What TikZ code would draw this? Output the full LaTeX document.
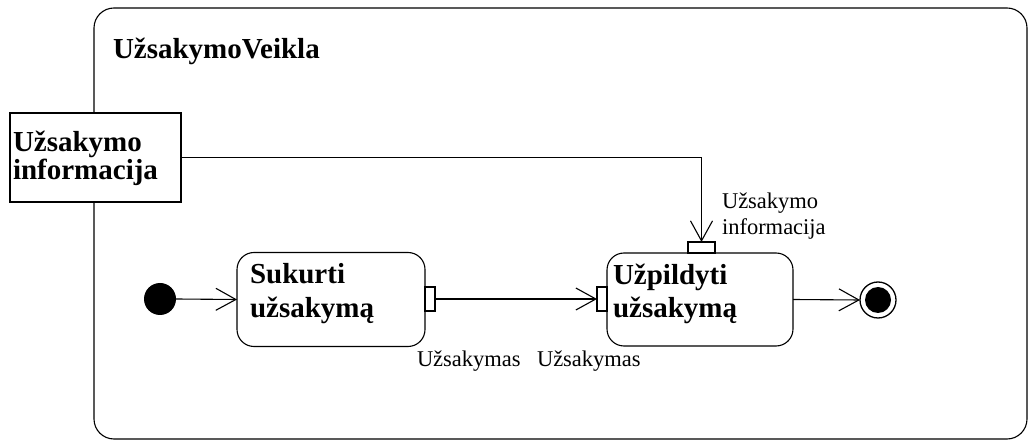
\documentclass[tikz,border=0pt]{standalone}
\usepackage{fontspec}
\setmainfont{Liberation Serif}
\usetikzlibrary{arrows.meta}
\begin{document}
\begin{tikzpicture}[x=1pt,y=-1pt,
  line width=1.1pt,
  every node/.style={inner sep=0pt,outer sep=0pt},
  bold/.style={font=\fontsize{29}{32}\selectfont\bfseries, anchor=base west},
  lbl/.style={font=\fontsize{22.5}{25}\selectfont, anchor=base west},
  action/.style={draw, rounded corners=17pt},
  pin/.style={draw, fill=white, rectangle},
  flow/.style={-{Straight Barb[length=20pt,width=22pt,line width=1.1pt]}},
]
\useasboundingbox (0,0) rectangle (1031,443);

% activity frame
\draw[rounded corners=20pt] (94,8) rectangle (1027,439);
\node[bold] (title) at (113,59) {UžsakymoVeikla};

% object node on the frame border
\node[draw, fill=white, minimum width=171pt, minimum height=89pt] (obj) at (95.5,157.5) {};
\node[bold] (objA) at (13,152) {Užsakymo};
\node[bold] (objB) at (13,180) {informacija};

% initial node
\node[circle, fill=black, minimum size=32pt] (init) at (160,299) {};

% actions
\node[action, minimum width=188pt, minimum height=94pt] (suk) at (331,299.5) {};
\node[bold] (sukA) at (250,284) {Sukurti};
\node[bold] (sukB) at (250,318) {užsakymą};

\node[action, minimum width=186pt, minimum height=93pt] (upl) at (700,299.5) {};
\node[bold] (uplA) at (613,285) {Užpildyti};
\node[bold] (uplB) at (613,318) {užsakymą};

% pins
\node[pin, minimum width=10pt, minimum height=24pt] (pOut) at (430,299) {};
\node[pin, minimum width=10pt, minimum height=24pt] (pIn) at (602,299) {};
\node[pin, minimum width=27pt, minimum height=11pt] (pTop) at (701.5,247.5) {};

% pin labels
\node[lbl] (lOut) at (417,367) {Užsakymas};
\node[lbl] (lIn) at (537,367) {Užsakymas};
\node[lbl] (lTopA) at (722,209) {Užsakymo};
\node[lbl] (lTopB) at (722,235) {informacija};

% final node
\node[circle, draw, line width=1.3pt, minimum size=36pt] (fin) at (878,300) {};
\node[circle, fill=black, minimum size=26pt] (finIn) at (878,300) {};

% flows
\draw[flow] (init.east) -- (suk.west);
\draw[flow] (pOut.east) -- (pIn.west);
\draw[flow] (obj.east) -| (pTop.north);
\draw[flow] (upl.east) -- (fin.west);
\end{tikzpicture}
\end{document}
